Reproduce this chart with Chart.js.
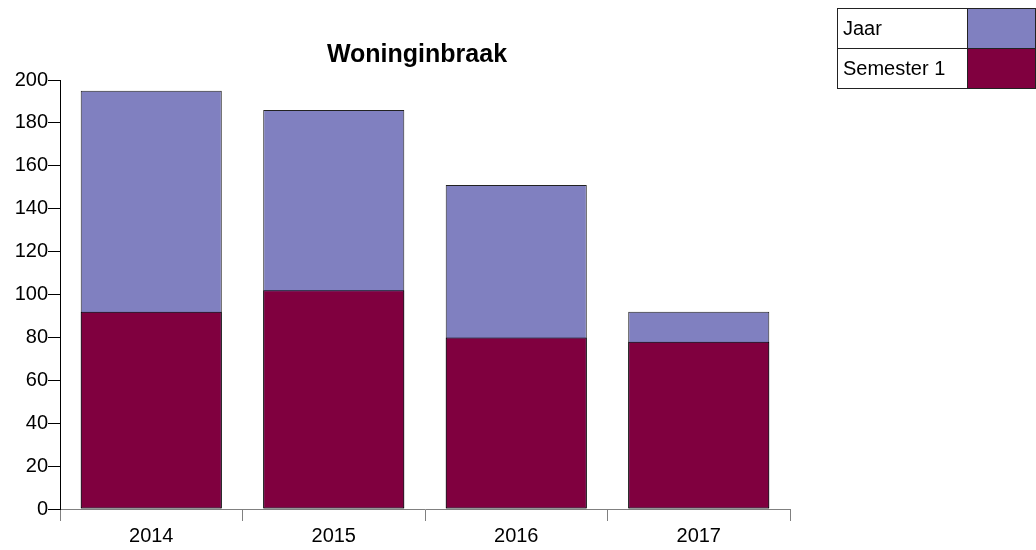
<!DOCTYPE html>
<html>
<head>
<meta charset="utf-8">
<script src="https://cdn.jsdelivr.net/npm/chart.js@4/dist/chart.umd.min.js"></script>
<style>
    body { margin: 0; background: #fff; font-family: "Liberation Sans", Arial, sans-serif; }
    #wrap { position: relative; width: 1036px; height: 550px; }
    #title { position: absolute; left: 0; width: 834px; top: 38px; text-align: center; font-weight: bold; font-size: 25px; line-height: 30px; color: #000; }
    #legend { position: absolute; left: 837px; top: 8px; border-collapse: collapse; font-size: 20px; }
    #legend td { border: 1px solid #222; height: 39px; padding: 0 0 0 5px; }
    #legend td.label { width: 124px; }
    #legend td.swatch { width: 68px; padding: 0; }
</style>
</head>
<body>
<div id="wrap">
    <canvas id="chart" width="1036" height="550"></canvas>
    <div id="title">Woninginbraak</div>
    <table id="legend">
        <tr><td class="label">Jaar</td><td class="swatch" style="background:#8080c0"></td></tr>
        <tr><td class="label">Semester 1</td><td class="swatch" style="background:#80003f"></td></tr>
    </table>
</div>
<script>
const years = ['2014', '2015', '2016', '2017'];
const jaarValues = [195, 186, 151, 92];
const semester1Values = [92, 102, 80, 78];
const yTicks = [0, 20, 40, 60, 80, 100, 120, 140, 160, 180, 200];

document.addEventListener('DOMContentLoaded', function () {
    const ctx = document.getElementById('chart').getContext('2d');

    new Chart(ctx, {
        type: 'bar',
        data: {
            labels: years,
            datasets: [
                {
                    // first dataset is drawn on top
                    label: 'Semester 1',
                    data: semester1Values,
                    backgroundColor: '#80003f',
                    borderColor: '#000',
                    borderWidth: 1,
                    borderSkipped: false,
                },
                {
                    label: 'Jaar',
                    data: jaarValues,
                    backgroundColor: '#8080c0',
                    borderColor: '#222',
                    borderWidth: 1,
                    borderSkipped: false,
                },
            ],
        },
        options: {
            responsive: false,
            maintainAspectRatio: false,
            animation: false,
            layout: {
                padding: { left: 0, right: 246, top: 80, bottom: 0 }
            },
            datasets: {
                bar: { categoryPercentage: 1, barPercentage: 0.773 }
            },
            plugins: {
                legend: { display: false },
                title: { display: false },
                tooltip: { enabled: false },
            },
            scales: {
                x: {
                    stacked: true,
                    afterFit: function (scale) { scale.height = 41; },
                    border: { color: '#808080', width: 1 },
                    grid: {
                        offset: true,
                        drawOnChartArea: false,
                        drawTicks: true,
                        tickLength: 12,
                        color: '#808080',
                    },
                    ticks: {
                        color: '#000',
                        font: { family: 'Liberation Sans', size: 20 },
                        padding: 3,
                    },
                },
                y: {
                    stacked: false,
                    min: 0,
                    max: 200,
                    afterFit: function (scale) { scale.width = 60; },
                    afterBuildTicks: function (scale) {
                        scale.ticks = yTicks.map(v => ({ value: v }));
                    },
                    border: { color: '#000', width: 1 },
                    grid: {
                        drawOnChartArea: false,
                        drawTicks: true,
                        tickLength: 12,
                        color: '#000',
                    },
                    ticks: {
                        color: '#000',
                        font: { family: 'Liberation Sans', size: 20 },
                        padding: 0,
                    },
                },
            },
        },
    });
});
</script>
</body>
</html>
